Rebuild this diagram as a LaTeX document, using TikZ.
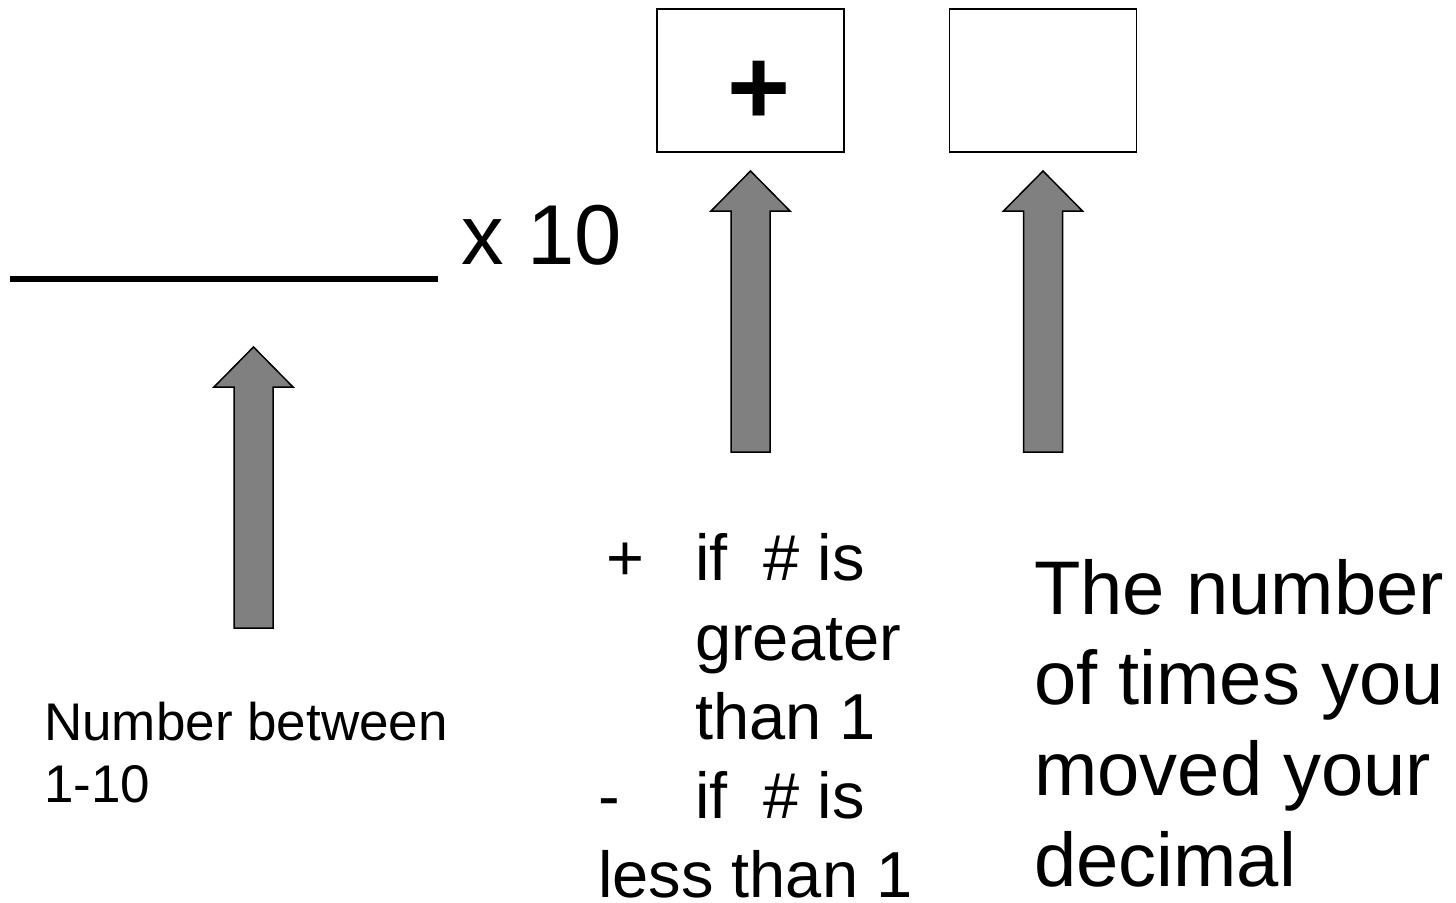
\documentclass[tikz,border=0pt]{standalone}
\usepackage{fontspec}
\setmainfont{Liberation Sans}
\begin{document}
\begin{tikzpicture}[x=1pt,y=-1pt,
  blockarrow/.style={fill=black!50,draw=black,line width=1.5pt,line join=miter},
  answerbox/.style={draw=black,line width=1.5pt,fill=white,minimum width=187pt,minimum height=143pt,inner sep=0pt},
  txt/.style={anchor=base west,inner sep=0pt,text=black}]
\useasboundingbox (0,0) rectangle (1456,902);
% blank line and x 10
\draw[line width=5.5pt] (10,279) coordinate (la) -- (438,279) coordinate (lb);
\node[txt,font=\fontsize{85}{102}\selectfont] (x10) at (461,264) {x 10};
% boxes
\node[answerbox] (box1) at (750.5,80.5) {};
\node[answerbox] (box2) at (1043,80.5) {};
\node[inner sep=0pt,font=\fontsize{108}{120}\selectfont\bfseries] (plus) at (759,93) {+};
% block arrows
\newcommand\blkarrow[4]{%
  \draw[blockarrow] (#1-19.5,#4) -- (#1-19.5,#3) -- (#1-39.5,#3) -- (#1,#2)
    -- (#1+39.5,#3) -- (#1+19.5,#3) -- (#1+19.5,#4) -- cycle;}
\blkarrow{253.5}{347}{387}{628}
\blkarrow{750.5}{171}{211}{452}
\blkarrow{1043}{171}{211}{452}
% left label
\node[txt,font=\fontsize{53}{62}\selectfont] (n1) at (44,740) {Number between};
\node[txt,font=\fontsize{53}{62}\selectfont] (n2) at (44,802) {1-10};
% middle label
\begin{scope}[every node/.style={txt,font=\fontsize{65}{78}\selectfont}]
\node (m0) at (606,580) {+};
\node (m1) at (695,580) {if\ \ \# is};
\node (m2) at (695,660) {greater};
\node (m3) at (695,739) {than 1};
\node (m4) at (598,818) {-};
\node (m5) at (695,818) {if\ \ \# is};
\node (m6) at (598,897) {less than 1};
\end{scope}
% right label
\begin{scope}[every node/.style={txt,font=\fontsize{76}{91}\selectfont}]
\node (r1) at (1034,614) {The number};
\node (r2) at (1034,704) {of times you};
\node (r3) at (1034,795) {moved your};
\node (r4) at (1034,886) {decimal};
\end{scope}
\end{tikzpicture}
\end{document}
